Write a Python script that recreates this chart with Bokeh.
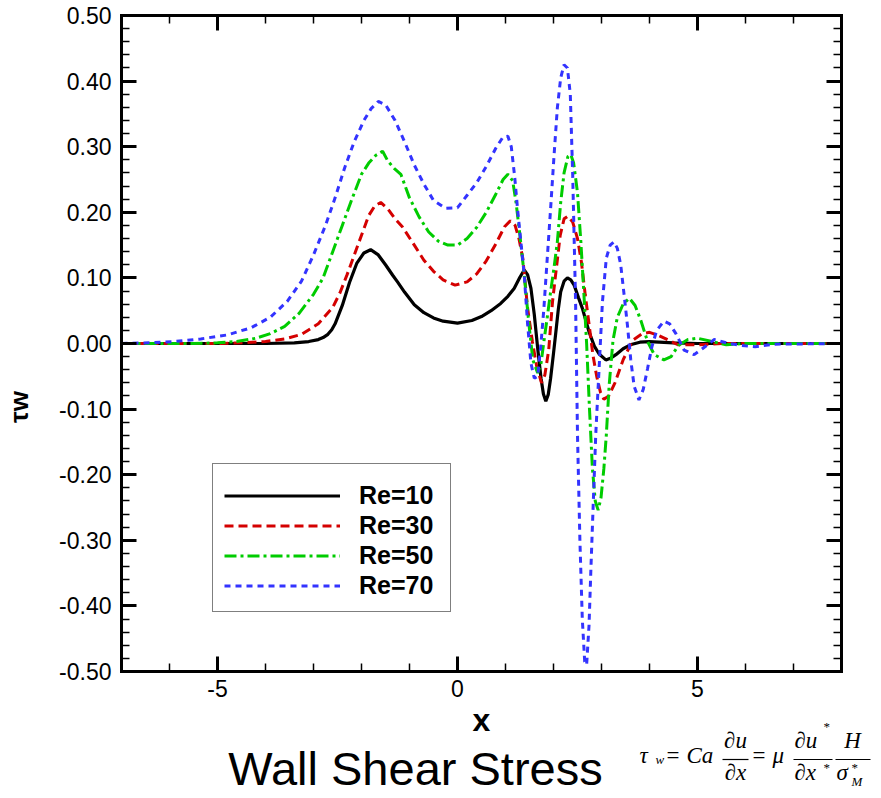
from bokeh.plotting import figure
from bokeh.models import (LinearAxis, FixedTicker, NumeralTickFormatter, Legend,
                          LegendItem, Label, Range1d, BoxAnnotation, CustomLabelingPolicy)
from bokeh.embed import file_html
from bokeh.resources import INLINE

# ---------------- data ----------------
x_re10 = [-7.0, -4.0, -3.4, -3.1, -2.9, -2.8, -2.7, -2.62, -2.55, -2.4, -2.25, -2.1, -1.95,
          -1.81, -1.65, -1.5, -1.35, -1.25, -1.1, -0.9, -0.7, -0.5, -0.3, 0.0, 0.3, 0.5, 0.7,
          0.9, 1.05, 1.18, 1.3, 1.39, 1.46, 1.53, 1.6, 1.67, 1.74, 1.79, 1.84, 1.89, 1.94,
          2.0, 2.05, 2.1, 2.15, 2.22, 2.29, 2.36, 2.43, 2.52, 2.6, 2.74, 2.85, 2.95, 3.09,
          3.2, 3.3, 3.45, 3.6, 3.8, 4.0, 4.5, 5.0, 6.0, 8.0]
y_re10 = [0.0, 0.0, 0.001, 0.003, 0.006, 0.009, 0.014, 0.021, 0.03, 0.058, 0.093, 0.122,
          0.138, 0.143, 0.135, 0.12, 0.104, 0.094, 0.078, 0.059, 0.047, 0.039, 0.034, 0.031,
          0.035, 0.041, 0.05, 0.061, 0.072, 0.084, 0.101, 0.112, 0.105, 0.084, 0.044,
          -0.007, -0.053, -0.077, -0.088, -0.078, -0.053, -0.015, 0.018, 0.052, 0.079, 0.095,
          0.100, 0.097, 0.089, 0.07, 0.054, 0.018, -0.004, -0.016, -0.025, -0.022, -0.017,
          -0.008, -0.002, 0.002, 0.003, 0.001, 0.0, 0.0, 0.0]

x_re30 = [-7.0, -5.0, -4.5, -4.0, -3.6, -3.25, -2.9, -2.6, -2.45, -2.3, -2.15, -2.0, -1.85,
          -1.72, -1.6, -1.45, -1.3, -1.15, -0.9, -0.7, -0.5, -0.3, -0.05, 0.2, 0.4, 0.6, 0.8,
          0.98, 1.1, 1.2, 1.28, 1.36, 1.46, 1.56, 1.65, 1.75, 1.82, 1.9, 1.98, 2.06, 2.14,
          2.22, 2.3, 2.4, 2.5, 2.58, 2.66, 2.74, 2.82, 2.9, 2.98, 3.05, 3.15, 3.28, 3.45,
          3.65, 3.85, 4.0, 4.2, 4.4, 4.6, 5.0, 5.5, 6.0, 8.0]
y_re30 = [0.0, 0.0, 0.001, 0.003, 0.007, 0.014, 0.03, 0.055, 0.077, 0.105, 0.135, 0.165, 0.195,
          0.21, 0.215, 0.205, 0.19, 0.178, 0.15, 0.127, 0.11, 0.097, 0.089, 0.094, 0.106,
          0.126, 0.152, 0.178, 0.187, 0.18, 0.16, 0.13, 0.054, 0.003, -0.035, -0.06, -0.048,
          -0.01, 0.064, 0.115, 0.165, 0.19, 0.194, 0.185, 0.16, 0.125, 0.075, 0.03, -0.017,
          -0.05, -0.075, -0.085, -0.08, -0.06, -0.025, 0.005, 0.015, 0.017, 0.012, 0.005,
          -0.002, -0.002, 0.0, 0.0, 0.0]

x_re50 = [-7.0, -5.5, -5.0, -4.6, -4.2, -3.9, -3.6, -3.3, -3.0, -2.8, -2.6, -2.4, -2.2, -2.0,
          -1.85, -1.7, -1.56, -1.45, -1.32, -1.18, -1.0, -0.8, -0.6, -0.4, -0.2, 0.0, 0.2,
          0.4, 0.6, 0.8, 0.95, 1.05, 1.15, 1.22, 1.3, 1.39, 1.49, 1.57, 1.67, 1.74, 1.8,
          1.87, 1.94, 2.01, 2.08, 2.15, 2.22, 2.3, 2.36, 2.42, 2.5, 2.57, 2.63, 2.69, 2.75,
          2.81, 2.87, 2.93, 2.99, 3.05, 3.1, 3.16, 3.24, 3.33, 3.45, 3.58, 3.7, 3.82, 3.96,
          4.1, 4.3, 4.45, 4.6, 4.8, 5.0, 5.3, 5.6, 6.0, 8.0]
y_re50 = [0.0, 0.0, 0.001, 0.003, 0.008, 0.015, 0.026, 0.046, 0.075, 0.1, 0.14, 0.18, 0.22,
          0.258, 0.275, 0.287, 0.293, 0.278, 0.267, 0.258, 0.222, 0.193, 0.17, 0.156, 0.15,
          0.15, 0.16, 0.177, 0.2, 0.228, 0.25, 0.258, 0.248, 0.215, 0.165, 0.105, 0.028,
          -0.025, -0.045, -0.03, 0.003, 0.04, 0.079, 0.115, 0.155, 0.215, 0.26, 0.285, 0.288,
          0.275, 0.23, 0.155, 0.08, 0.0, -0.1, -0.19, -0.24, -0.254, -0.235, -0.19, -0.14,
          -0.063, 0.005, 0.04, 0.06, 0.069, 0.058, 0.035, 0.003, -0.017, -0.025, -0.02,
          -0.003, 0.006, 0.008, 0.003, -0.002, 0.0, 0.0]

x_re70 = [-7.0, -6.4, -5.9, -5.35, -4.8, -4.3, -3.9, -3.55, -3.25, -3.0, -2.75, -2.55, -2.35,
          -2.15, -1.95, -1.8, -1.65, -1.5, -1.3, -1.1, -0.9, -0.7, -0.5, -0.25, 0.0, 0.2, 0.4,
          0.6, 0.8, 0.95, 1.05, 1.12, 1.19, 1.25, 1.32, 1.39, 1.46, 1.53, 1.6, 1.67, 1.74,
          1.8, 1.87, 1.94, 2.01, 2.08, 2.15, 2.22, 2.29, 2.35, 2.4, 2.46, 2.5, 2.55, 2.6,
          2.65, 2.69, 2.74, 2.78, 2.83, 2.88, 2.95, 3.02, 3.1, 3.18, 3.26, 3.33, 3.4, 3.47,
          3.54, 3.61, 3.68, 3.78, 3.87, 3.96, 4.05, 4.15, 4.3, 4.42, 4.55, 4.72, 4.93, 5.1,
          5.35, 5.6, 5.9, 6.2, 6.6, 8.0]
y_re70 = [0.0, 0.001, 0.003, 0.007, 0.013, 0.024, 0.04, 0.064, 0.095, 0.135, 0.18, 0.222,
          0.268, 0.308, 0.34, 0.358, 0.369, 0.364, 0.34, 0.307, 0.272, 0.243, 0.218, 0.206,
          0.207, 0.226, 0.245, 0.27, 0.298, 0.315, 0.316, 0.3, 0.255, 0.206, 0.155, 0.105,
          0.03, -0.03, -0.053, -0.05, 0.0, 0.054, 0.13, 0.206, 0.285, 0.359, 0.405, 0.425,
          0.42, 0.38, 0.257, 0.064, -0.139, -0.3, -0.42, -0.485, -0.49, -0.43, -0.342, -0.24,
          -0.139, -0.038, 0.064, 0.13, 0.15, 0.155, 0.145, 0.12, 0.075, 0.028, -0.025,
          -0.065, -0.086, -0.07, -0.038, -0.005, 0.02, 0.034, 0.03, 0.015, -0.01, -0.017,
          -0.008, 0.006, 0.001, -0.003, -0.005, -0.001, 0.0]

series_labels = ["Re=10", "Re=30", "Re=50", "Re=70"]
x_major_ticks = [-5, 0, 5]
x_minor_ticks = [-7, -6, -4, -3, -2, -1, 1, 2, 3, 4, 6, 7, 8]
y_major_ticks = [-0.5, -0.4, -0.3, -0.2, -0.1, 0.0, 0.1, 0.2, 0.3, 0.4, 0.5]
y_minor_ticks = [round(-0.5 + 0.02 * i, 2) for i in range(51)]
x_limits = (-7, 8)
y_limits = (-0.5, 0.5)

# ---------------- geometry (page pixels) ----------------
W, H = 881, 798
FL, FT = 121, 15            # frame left / top
BOX_R, BOX_B = 841, 671     # right / bottom edge of the plotted box
px_per_x = (BOX_R - FL) / (x_limits[1] - x_limits[0])
px_per_y = (BOX_B - FT) / (y_limits[1] - y_limits[0])
# the frame runs to the page's right and bottom edges so the title and formula can live in it
x_end = x_limits[1] + (W - BOX_R) / px_per_x
y_start = y_limits[0] - (H - BOX_B) / px_per_y

p = figure(width=W, height=H, output_backend="svg", toolbar_location=None,
           x_range=Range1d(x_limits[0], x_end), y_range=Range1d(y_start, y_limits[1]),
           min_border_left=FL, min_border_right=0, min_border_top=FT,
           min_border_bottom=0, background_fill_color="white",
           border_fill_color="white")
p.grid.visible = False
p.outline_line_color = None

SANS = "Liberation Sans"
SERIF = "Liberation Serif"

xt = FixedTicker(ticks=x_major_ticks, minor_ticks=x_minor_ticks)
yt = FixedTicker(ticks=y_major_ticks, minor_ticks=y_minor_ticks)


def style_axis(ax, ticker, bounds, labels=True):
    ax.ticker = ticker
    ax.bounds = bounds
    ax.axis_line_width = 3
    ax.axis_line_color = "black"
    ax.axis_line_cap = "square"
    ax.major_tick_in = 15
    ax.major_tick_out = 0
    ax.major_tick_line_width = 3
    ax.minor_tick_in = 8
    ax.minor_tick_out = 0
    ax.minor_tick_line_width = 1.5
    if labels:
        ax.major_label_text_font = SANS
        ax.major_label_text_font_size = "23px"
        ax.major_label_text_color = "black"
        ax.axis_label_text_color = "black"
    else:
        ax.major_label_policy = CustomLabelingPolicy(code="return []")
        ax.major_label_standoff = 0
        ax.major_label_text_font_size = "10px"


xa = p.xaxis[0]
ya = p.yaxis[0]
style_axis(xa, xt, x_limits)
style_axis(ya, yt, y_limits)
xa.fixed_location = y_limits[0]
xa.major_label_standoff = 8
ya.major_label_standoff = 10
xa.formatter = NumeralTickFormatter(format="0")
ya.formatter = NumeralTickFormatter(format="0.00")
xa.axis_label = "x"
xa.axis_label_text_font = SANS
xa.axis_label_text_font_style = "bold"
xa.axis_label_text_font_size = "32px"
xa.axis_label_standoff = 2
ya.axis_label = "τw"
ya.axis_label_text_font = SANS
ya.axis_label_text_font_style = "bold"
ya.axis_label_text_font_size = "26px"
ya.axis_label_standoff = 22

top_ax = LinearAxis()
style_axis(top_ax, xt, x_limits, labels=False)
p.add_layout(top_ax, "above")
right_ax = LinearAxis(fixed_location=x_limits[1])
style_axis(right_ax, yt, y_limits, labels=False)
p.add_layout(right_ax, "right")

# ---------------- curves ----------------
r10 = p.line(x_re10, y_re10, line_color="black", line_width=3.2)
r30 = p.line(x_re30, y_re30, line_color="#d40000", line_width=3, line_dash="9 5")
r50 = p.line(x_re50, y_re50, line_color="#00cc00", line_width=3, line_dash="12 4 3 4")
r70 = p.line(x_re70, y_re70, line_color="#3333ff", line_width=3, line_dash="6 5")

legend = Legend(items=[LegendItem(label=series_labels[0], renderers=[r10]),
                       LegendItem(label=series_labels[1], renderers=[r30]),
                       LegendItem(label=series_labels[2], renderers=[r50]),
                       LegendItem(label=series_labels[3], renderers=[r70])],
                location=(212 - FL, H - 612))
legend.title = " "
legend.title_text_font_size = "6px"
legend.title_standoff = 0
legend.label_text_font = SANS
legend.label_text_font_style = "bold"
legend.label_text_font_size = "25px"
legend.label_text_color = "black"
legend.label_height = 29
legend.label_width = 80
legend.glyph_height = 29
legend.glyph_width = 116
legend.label_standoff = 19
legend.spacing = 1
legend.padding = 11
legend.margin = 0
legend.border_line_color = "black"
legend.border_line_width = 1
legend.background_fill_alpha = 1
p.add_layout(legend, "center")

# Label screen offsets measured in this page came out FT pixels low; compensate.
LABEL_DY = FT


def lab(text, X, Y, size, font=SERIF, style="italic", align="left"):
    p.add_layout(Label(x=X - FL, y=H - Y + LABEL_DY, x_units="screen", y_units="screen",
                       text=text, text_font=font, text_font_style=style,
                       text_font_size=size, text_align=align,
                       text_baseline="alphabetic", text_color="black"))


def bar(X0, X1, Y):
    p.add_layout(BoxAnnotation(left=X0 - FL, right=X1 - FL, top=H - Y + 0.6,
                               bottom=H - Y - 0.6, left_units="screen",
                               right_units="screen", top_units="screen",
                               bottom_units="screen", fill_color="black",
                               fill_alpha=1, line_color=None))


lab("Wall Shear Stress", 415, 783, "47px", font=SANS, style="normal", align="center")

lab("τ", 639, 770, "23px")
lab("w", 655, 774, "13px")
lab("=", 666, 770, "23px", style="normal")
lab("Ca", 686, 770, "23px")
lab("∂u", 735, 755, "23px", align="center")
bar(722, 748, 759)
lab("∂x", 735, 787, "23px", align="center")
lab("=", 752, 770, "23px", style="normal")
lab("μ", 772, 770, "23px")
lab("∂u", 794, 755, "23px")
lab("*", 823, 741, "13px", style="normal")
bar(793, 832, 759)
lab("∂x", 794, 787, "23px")
lab("*", 823, 782, "13px", style="normal")
lab("H", 852, 755, "23px", align="center")
bar(835, 870, 759)
lab("σ", 836, 787, "23px")
lab("*", 851, 782, "13px", style="normal")
lab("M", 851, 796, "13px")

open("out.html", "w").write(file_html(p, INLINE))
